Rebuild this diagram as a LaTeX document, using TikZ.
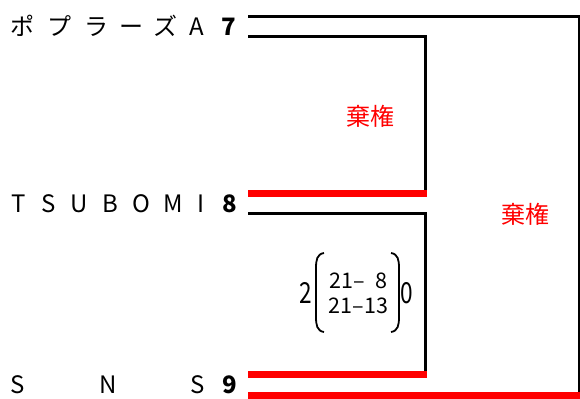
\documentclass[tikz,border=0pt]{standalone}
\usepackage{fontspec}
\newfontfamily\jp{Noto Sans CJK JP}
\begin{document}
\begin{tikzpicture}[x=1bp,y=-1bp,
  team/.style={inner sep=0pt,anchor=base,font=\jp\fontsize{24bp}{24bp}\selectfont},
  num/.style={inner sep=0pt,anchor=base,font=\jp\bfseries\fontsize{24bp}{24bp}\selectfont},
  big/.style={inner sep=0pt,anchor=base,font=\jp\fontsize{29bp}{29bp}\selectfont},
  game/.style={inner sep=0pt,font=\jp\fontsize{21.5bp}{21.5bp}\selectfont},
  note/.style={inner sep=0pt,text=red,font=\jp\fontsize{24bp}{24bp}\selectfont},
  lose/.style={line width=3bp,black},
  win/.style={line width=7bp,red},
  paren/.style={line width=1.8bp,black}]
\useasboundingbox (0,0) rectangle (580,398);
% team names
\foreach \c/\x [count=\i] in {ポ/22,プ/59,ラ/96,ー/131,ズ/165,A/197}
  \node[team] (p\i) at (\x,35) {\c};
\foreach \c/\x [count=\i] in {T/19,S/49,U/79,B/110,O/141,M/173,I/201}
  \node[team] (t\i) at (\x,212) {\c};
\foreach \c/\x [count=\i] in {S/18,N/108,S/198}
  \node[team] (s\i) at (\x,393) {\c};
\node[num] (n7) at (229,35) {7};
\node[num] (n8) at (230,212) {8};
\node[num] (n9) at (230,393) {9};
% line coordinates
\coordinate (a7) at (248,16.5);
\coordinate (b7) at (248,36);
\coordinate (a8) at (248,193);
\coordinate (b8) at (248,213);
\coordinate (a9) at (248,374.5);
\coordinate (b9) at (248,395);
\coordinate (j1) at (425.5,36);
\coordinate (j1e) at (427,193);
\coordinate (j2) at (425.5,213);
\coordinate (j2e) at (427,374.5);
\coordinate (r1) at (579,16.5);
\coordinate (r1e) at (580,395);
% brackets
\draw[lose] (b7) -- (b7 -| j1) -- (j1 |- a8);
\draw[win] (a8) -- (a8 -| j1e);
\draw[lose] (b8) -- (b8 -| j2) -- (j2 |- a9);
\draw[win] (a9) -- (a9 -| j2e);
\draw[lose] (a7) -- (a7 -| r1) -- (r1 |- b9);
\draw[win] (b9) -- (b9 -| r1e);
% results
\node[note] (w1) at (370,116) {棄権};
\node[note] (w2) at (525,214) {棄権};
\node[big] (g2) at (306,303) {\scalebox{0.78}[1]{2}};
\node[big] (g0) at (407,303) {\scalebox{0.78}[1]{0}};
\node[game,anchor=base west] (g1a) at (329,288) {21–};
\node[game,anchor=base east] (g1b) at (388,288) {8};
\node[game,anchor=base] (g2a) at (358.5,313) {21–13};
\draw[paren] (324,253) .. controls (317,254) and (316,260) .. (316,268) -- (316,317) .. controls (316,325) and (317,331) .. (324,332);
\draw[paren] (391,253) .. controls (398,254) and (399,260) .. (399,268) -- (399,317) .. controls (399,325) and (398,331) .. (391,332);
\end{tikzpicture}
\end{document}
